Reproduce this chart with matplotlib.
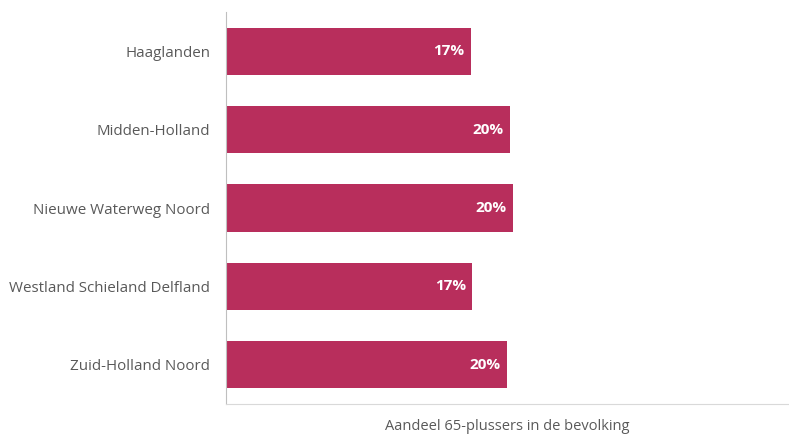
import matplotlib.pyplot as plt

# Aandeel 65-plussers per regio
regios = ['Haaglanden', 'Midden-Holland', 'Nieuwe Waterweg Noord',
          'Westland Schieland Delfland', 'Zuid-Holland Noord']
aandeel = [0.174, 0.202, 0.204, 0.175, 0.1995]
labels = ['17%', '20%', '20%', '17%', '20%']

plt.rcParams['font.family'] = ['Open Sans', 'DejaVu Sans']

fig = plt.figure(figsize=(7.89, 4.34), dpi=100)
ax = fig.add_axes([226 / 789, 30 / 434, 563 / 789, 392 / 434])

pos = list(range(len(regios)))
ax.barh(pos, aandeel, height=0.6, color='#B82E5C')

for p, v, t in zip(pos, aandeel, labels):
    ax.text(v - 0.0045, p, t, ha='right', va='center', color='white',
            fontsize=11, fontweight='bold')

ax.set_ylim(len(regios) - 0.5, -0.5)
ax.set_xlim(0, 0.4)
ax.set_yticks(pos)
ax.set_yticklabels(regios, fontsize=10.9, color='#595959')
ax.set_xticks([])
ax.tick_params(axis='y', length=0, pad=11.5)

for s in ['top', 'right']:
    ax.spines[s].set_visible(False)
ax.spines['left'].set_color('#BFBFBF')
ax.spines['bottom'].set_color('#D9D9D9')

ax.set_xlabel('Aandeel 65-plussers in de bevolking', fontsize=10.5,
              color='#595959', labelpad=11)

fig.savefig('out.png', dpi=100)
